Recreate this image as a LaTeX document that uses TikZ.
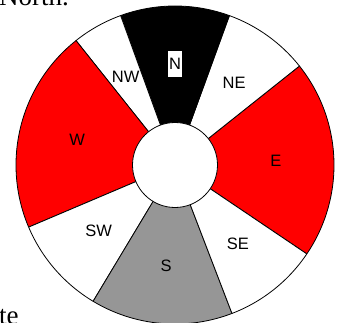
\documentclass[tikz,border=0pt]{standalone}
\usepackage{fontspec}
\setmainfont{Liberation Serif}
\newfontfamily\labelfont{Liberation Sans}
\usetikzlibrary{positioning}

\begin{document}
\begin{tikzpicture}[
    x=1pt, y=1pt,
    sector/.style={
        draw=black,
        line width=0.8pt,
        line join=round
    },
    dirlabel/.style={
        font=\labelfont\fontsize{16.5}{19}\selectfont,
        inner sep=0pt
    },
    bodytext/.style={
        font=\fontsize{27}{32}\selectfont,
        inner sep=0pt
    }
]
\useasboundingbox (0,0) rectangle (337,322);
\clip (0,0) rectangle (337,322);

\coordinate (C) at (175,157);

% ---------------- SECTORS ----------------
\draw[sector, fill=red]        (C) -- ++(-34  :159) arc[start angle=-34,   end angle=38.5,  radius=159] -- cycle;
\draw[sector, fill=white]      (C) -- ++(38.5 :159) arc[start angle=38.5,  end angle=70,    radius=159] -- cycle;
\draw[sector, fill=black]      (C) -- ++(70   :159) arc[start angle=70,    end angle=110,   radius=159] -- cycle;
\draw[sector, fill=white]      (C) -- ++(110  :159) arc[start angle=110,   end angle=128.5, radius=159] -- cycle;
\draw[sector, fill=red]        (C) -- ++(128.5:159) arc[start angle=128.5, end angle=203,   radius=159] -- cycle;
\draw[sector, fill=white]      (C) -- ++(203  :159) arc[start angle=203,   end angle=239,   radius=159] -- cycle;
\draw[sector, fill=black!41]   (C) -- ++(239  :159) arc[start angle=239,   end angle=291,   radius=159] -- cycle;
\draw[sector, fill=white]      (C) -- ++(291  :159) arc[start angle=291,   end angle=326,   radius=159] -- cycle;

% hub
\draw[sector, fill=white] (C) circle[radius=42.5];

% ---------------- LABELS ----------------
\node[dirlabel, fill=white, inner xsep=1pt, minimum height=25pt] (N)  at ([shift={(90   :101)}]C) {N};
\node[dirlabel]                                                   (NE) at ([shift={(54.2 :101)}]C) {NE};
\node[dirlabel]                                                   (E)  at ([shift={(2.2  :101)}]C) {E};
\node[dirlabel]                                                   (SE) at ([shift={(308.5:101)}]C) {SE};
\node[dirlabel]                                                   (S)  at ([shift={(265  :101)}]C) {S};
\node[dirlabel]                                                   (SW) at ([shift={(221  :101)}]C) {SW};
\node[dirlabel]                                                   (W)  at ([shift={(165.7:101)}]C) {W};
\node[dirlabel]                                                   (NW) at ([shift={(119.2:101)}]C) {NW};

% surrounding text, cut off by the frame
\node[bodytext, anchor=base east] (north) at (69,316)  {North.};
\node[bodytext, anchor=base west] (te)    at (-1,-2.5) {te};

\end{tikzpicture}
\end{document}
